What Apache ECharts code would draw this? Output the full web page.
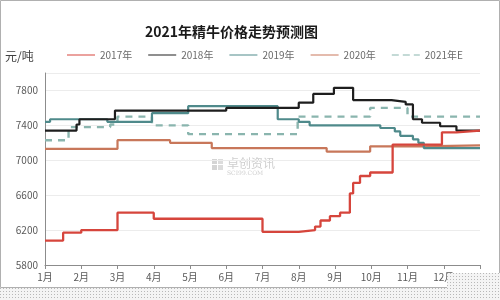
<!DOCTYPE html>
<html><head><meta charset="utf-8">
<script src="https://cdn.jsdelivr.net/npm/echarts@6/dist/echarts.min.js"></script>
<style>html,body{margin:0;padding:0;background:#fff}#c{width:500px;height:300px}</style>
</head><body><div id="c"></div>
<script>
const monthLabels = ['1月','2月','3月','4月','5月','6月','7月','8月','9月','10月','11月','12月'];
const seriesNames = ['2017年','2018年','2019年','2020年','2021年E'];

const x2017 = [0, 0.5, 1.0, 2.0, 3.0, 6.0, 7.0, 7.45, 7.6, 7.86, 8.14, 8.41, 8.5, 8.69, 8.97, 9.59, 10.95, 11.35, 12];
const y2017 = [6080, 6170, 6200, 6400, 6330, 6180, 6200, 6240, 6310, 6360, 6400, 6620, 6740, 6820, 6860, 7180, 7320, 7340, 7340];

const x2018 = [0, 0.87, 0.95, 1.93, 5.0, 7.0, 7.4, 7.97, 8.5, 9.56, 9.95, 10.15, 10.4, 10.9, 11.35, 12];
const y2018 = [7340, 7410, 7470, 7570, 7600, 7660, 7760, 7830, 7690, 7670, 7640, 7470, 7430, 7390, 7340, 7340];

const x2019 = [0, 0.14, 1.72, 2.95, 3.95, 6.42, 7.0, 7.3, 9.25, 9.65, 9.8, 10.15, 10.3, 10.45, 12];
const y2019 = [7440, 7470, 7440, 7540, 7620, 7470, 7440, 7400, 7370, 7330, 7280, 7240, 7200, 7140, 7140];

const x2020 = [0, 2.0, 3.45, 4.6, 7.77, 8.97, 10.4, 12];
const y2020 = [7130, 7230, 7200, 7140, 7100, 7160, 7170, 7170];

const x2021 = [0, 0.65, 1.8, 2.0, 2.95, 3.95, 6.97, 8.97, 10.0, 12];
const y2021 = [7230, 7380, 7410, 7500, 7400, 7300, 7500, 7600, 7500, 7500];

const yTicks = [5800, 6200, 6600, 7000, 7400, 7800];

function pairs(xs, ys){ return xs.map((x,i)=>[x, ys[i]]); }

const FONT = "'Noto Sans CJK SC', 'Noto Sans', sans-serif";
const chart = echarts.init(document.getElementById('c'), null, {renderer:'canvas'});

// dotted texture for the torn bottom strip
const pc = document.createElement('canvas');
pc.width = 3; pc.height = 3;
const pctx = pc.getContext('2d');
pctx.fillStyle = '#f4f4f4'; pctx.fillRect(0,0,3,3);
pctx.fillStyle = '#b8b8b8'; pctx.fillRect(0,0,1,1);
const dotted = {image: pc, repeat: 'repeat'};

function mk(name, xs, ys, color, width, z, dashed){
  return {
    name, type:'line', step:'end', symbol:'none', z,
    data: pairs(xs, ys),
    lineStyle:{color, width, type: dashed ? [7,6] : 'solid'},
    itemStyle:{color},
    emphasis:{disabled:true}
  };
}

const solidIcon = 'path://M0,0H28V1H0Z';
const dashIcon = 'path://M0,0H7V1H0Z M11,0H18V1H11Z M22,0H28V1H22Z';

chart.setOption({
  animation:false,
  backgroundColor:'#fff',
  title:{
    text:'2021年精牛价格走势预测图', top:25, left:145, padding:0,
    textStyle:{fontFamily:FONT, fontSize:14, fontWeight:'bold', color:'#1a1a1a'}
  },
  legend:{
    data: seriesNames.map((n,i)=>({name:n, icon: i===4 ? dashIcon : solidIcon})),
    left:67, top:50, padding:0, itemWidth:28, itemHeight:2, itemGap:16,
    textStyle:{fontFamily:FONT, fontSize:10, color:'#6b6b6b'}
  },
  grid:{left:45, right:20, top:73, bottom:35},
  xAxis:{
    type:'value', min:0, max:12, interval:1,
    axisLine:{show:true, lineStyle:{color:'#8c8c8c', width:1}},
    axisTick:{show:true, length:4, lineStyle:{color:'#8c8c8c'}},
    axisLabel:{fontFamily:FONT, fontSize:10, color:'#595959', margin:7,
      formatter: v => (v < 12 ? monthLabels[Math.round(v)] : '')},
    splitLine:{show:false}
  },
  yAxis:{
    type:'value', min:5800, max:8000, interval:400,
    axisLine:{show:true, lineStyle:{color:'#8c8c8c', width:1}},
    axisTick:{show:false},
    axisLabel:{fontFamily:FONT, fontSize:10, color:'#595959', margin:7,
      formatter: v => (yTicks.indexOf(v) >= 0 ? String(v) : '')},
    splitLine:{show:true, lineStyle:{color:'#ececec', width:1}}
  },
  graphic:[
    {type:'text', left:5, top:50, style:{text:'元/吨', fontFamily:FONT, fontSize:12, fill:'#404040'}},
    {type:'group', left:212, top:157, z:0, children:[
      {type:'rect', shape:{x:0,y:0,width:5,height:5}, style:{fill:'#d4d4d4'}},
      {type:'rect', shape:{x:6,y:0,width:5,height:5}, style:{fill:'#dcdcdc'}},
      {type:'rect', shape:{x:0,y:6,width:5,height:5}, style:{fill:'#d4d4d4'}},
      {type:'rect', shape:{x:6,y:6,width:5,height:5}, style:{fill:'#dcdcdc'}},
      {type:'text', x:15, y:-2, style:{text:'卓创资讯', fontFamily:FONT, fontSize:12, fill:'#cfcfcf'}},
      {type:'text', x:15, y:11, style:{text:'SCI99.COM', fontFamily:'DejaVu Serif', fontSize:6, fill:'#cfcfcf'}}
    ]},
    {type:'rect', shape:{x:0.5,y:0.5,width:499,height:287}, style:{fill:'none', stroke:'#b0b0b0', lineWidth:1}, z:100},
    {type:'polygon', shape:{points:[[0,288],[447,288],[447,273],[500,273],[500,300],[0,300]]}, style:{fill:dotted}, z:101}
  ],
  series:[
    mk('2017年', x2017, y2017, '#d6453c', 2.3, 6, false),
    mk('2018年', x2018, y2018, '#1e1e1e', 2.2, 5, false),
    mk('2019年', x2019, y2019, '#4f8a8b', 2.2, 4, false),
    mk('2020年', x2020, y2020, '#c8775a', 2.2, 3, false),
    mk('2021年E', x2021, y2021, '#8ab5ae', 2.4, 2, true)
  ]
});
</script></body></html>
